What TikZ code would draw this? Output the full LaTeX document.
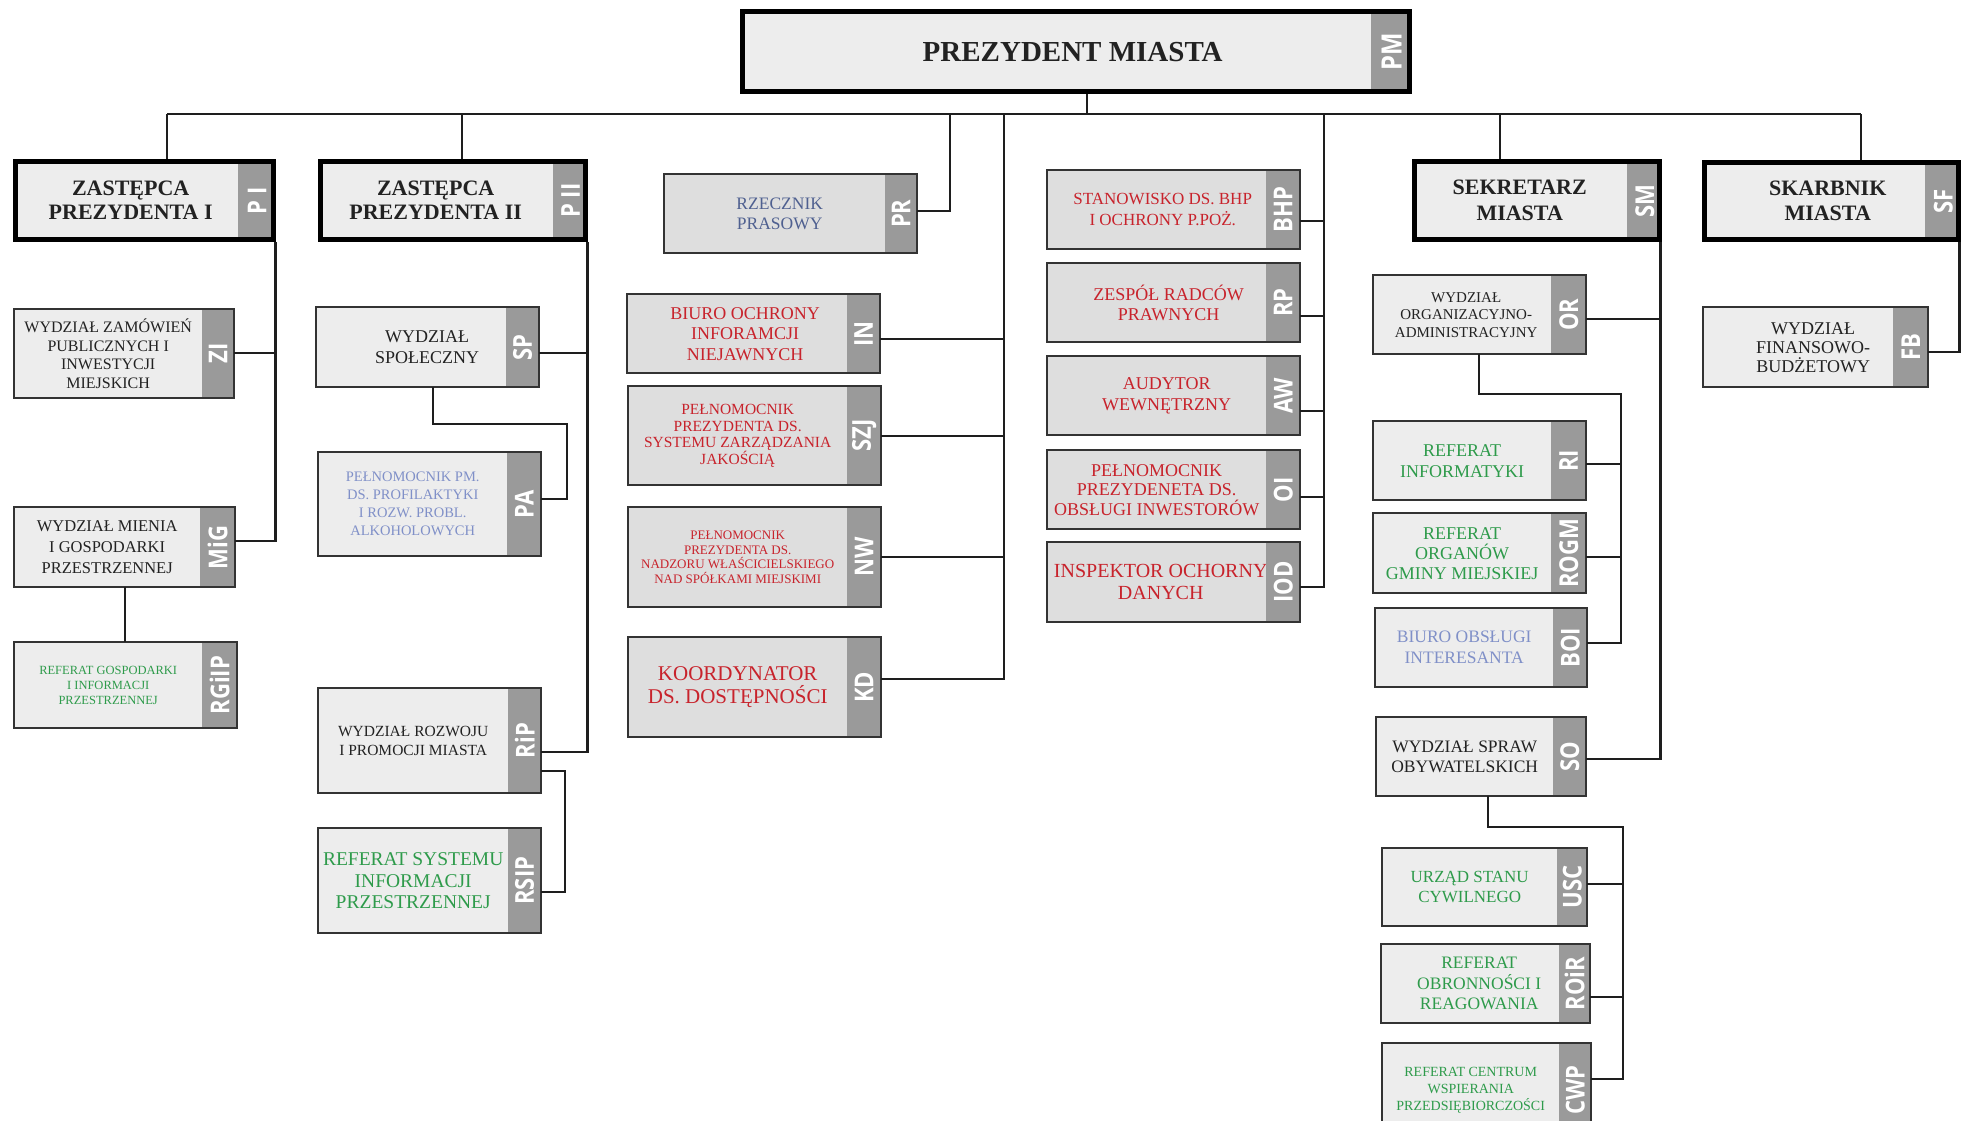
\documentclass[tikz,border=0pt]{standalone}
\usepackage{fontspec}
\setmainfont{Liberation Serif}
\newfontfamily\tagfont{Open Sans}
\usetikzlibrary{calc}
\definecolor{txtblack}{HTML}{222222}
\definecolor{redC}{HTML}{C8232C}
\definecolor{greenC}{HTML}{2E9B4B}
\definecolor{slateC}{HTML}{4F6090}
\definecolor{periC}{HTML}{8090C8}
\definecolor{lightfill}{HTML}{EDEDED}
\definecolor{midfill}{HTML}{DEDEDE}
\definecolor{taggrey}{HTML}{9A9A9A}
\definecolor{frameC}{HTML}{333333}
\definecolor{lineC}{HTML}{1E1E1E}
\tikzset{
  body/.style={inner sep=0pt, align=center, text=txtblack, fill=lightfill},
  dark/.style={fill=midfill},
  tagbox/.style={fill=taggrey, inner sep=0pt, text=white, font=\tagfont\bfseries\fontsize{26}{26}\selectfont},
  frame/.style={draw=frameC, line width=2pt},
  mainframe/.style={draw=black, line width=5pt},
  conn/.style={draw=lineC, line width=2.2pt},
  bigbold/.style={font=\bfseries\fontsize{22}{24}\selectfont}
}
% #1 name, #2 left, #3 top, #4 right, #5 bottom, #6 tag left, #7 body options, #8 tag text, #9 text
\newcommand{\orgbox}[9]{%
  \path[body,#7,reset cm] (#2,#3) rectangle (#6,#5);
  \node[body,#7,fill=none,minimum width={(#6-#2)*1pt},minimum height={(#5-#3)*1pt},anchor=north west] (#1) at (#2,#3) {#9};
  \node[tagbox,minimum width={(#4-#6)*1pt},minimum height={(#5-#3)*1pt},anchor=north west] (#1t) at (#6,#3) {\rotatebox{90}{\scalebox{0.85}[1]{#8}}};
  \draw[frame] (#2,#3) rectangle (#4,#5);
}
\newcommand{\mainbox}[9]{%
  \path[body,#7,reset cm] (#2,#3) rectangle (#6,#5);
  \node[body,#7,fill=none,minimum width={(#6-#2)*1pt},minimum height={(#5-#3)*1pt},anchor=north west] (#1) at (#2,#3) {#9};
  \node[tagbox,minimum width={(#4-#6)*1pt},minimum height={(#5-#3)*1pt},anchor=north west] (#1t) at (#6,#3) {\rotatebox{90}{\scalebox{0.85}[1]{#8}}};
  \draw[mainframe] ($(#2,#3)+(2.5,2.5)$) rectangle ($(#4,#5)+(-2.5,-2.5)$);
}
\begin{document}
\begin{tikzpicture}[x=1pt,y=-1pt]
\useasboundingbox (0,0) rectangle (1968,1120);
\clip (0,0) rectangle (1968,1120);
\fill[white] (0,0) rectangle (1968,1120);

% ---- top
\mainbox{pm}{740}{9}{1412}{94}{1371}{xshift=17pt,font=\bfseries\fontsize{29}{30}\selectfont}{\fontsize{28}{28}\selectfont PM}{PREZYDENT MIASTA}

% ---- column 1
\mainbox{pa1}{13}{159}{276}{242}{238}{xshift=5pt,bigbold}{P I}{ZASTĘPCA\\PREZYDENTA I}
\orgbox{zi}{14}{309}{234}{398}{202}{font=\fontsize{16}{18.5}\selectfont}{ZI}{WYDZIAŁ ZAMÓWIEŃ\\PUBLICZNYCH I\\INWESTYCJI\\MIEJSKICH}
\orgbox{mig}{14}{507}{235}{587}{200}{font=\fontsize{16.5}{21}\selectfont}{MiG}{WYDZIAŁ MIENIA\\I GOSPODARKI\\PRZESTRZENNEJ}
\orgbox{rg}{14}{642}{237}{728}{202}{text=greenC,font=\fontsize{12.5}{15}\selectfont}{RGiIP}{REFERAT GOSPODARKI\\I INFORMACJI\\PRZESTRZENNEJ}

% ---- column 2
\mainbox{pa2}{318}{159}{588}{242}{553}{bigbold}{P II}{ZASTĘPCA\\PREZYDENTA II}
\orgbox{sp}{316}{307}{539}{387}{506}{xshift=16pt,font=\fontsize{18}{21.5}\selectfont}{SP}{WYDZIAŁ\\SPOŁECZNY}
\orgbox{pab}{318}{452}{541}{556}{507}{text=periC,font=\fontsize{14.5}{18}\selectfont}{PA}{PEŁNOMOCNIK PM.\\DS. PROFILAKTYKI\\I ROZW. PROBL.\\ALKOHOLOWYCH}
\orgbox{rip}{318}{688}{541}{793}{508}{font=\fontsize{15.5}{19}\selectfont}{RiP}{WYDZIAŁ ROZWOJU\\I PROMOCJI MIASTA}
\orgbox{rsip}{318}{828}{541}{933}{508}{text=greenC,font=\fontsize{19.5}{21.5}\selectfont}{RSIP}{REFERAT SYSTEMU\\INFORMACJI\\PRZESTRZENNEJ}

% ---- column 3
\orgbox{prb}{664}{174}{917}{253}{885}{xshift=5pt,dark,text=slateC,font=\fontsize{17.5}{20}\selectfont}{PR}{RZECZNIK\\PRASOWY}
\orgbox{inb}{627}{294}{880}{373}{847}{xshift=8pt,dark,text=redC,font=\fontsize{18}{20.5}\selectfont}{IN}{BIURO OCHRONY\\INFORAMCJI\\NIEJAWNYCH}
\orgbox{szj}{628}{386}{881}{485}{847}{dark,text=redC,font=\fontsize{15.5}{16.5}\selectfont}{SZJ}{PEŁNOMOCNIK\\PREZYDENTA DS.\\SYSTEMU ZARZĄDZANIA\\JAKOŚCIĄ}
\orgbox{nw}{628}{507}{881}{607}{847}{dark,text=redC,font=\fontsize{13}{14.5}\selectfont}{NW}{PEŁNOMOCNIK\\PREZYDENTA DS.\\NADZORU WŁAŚCICIELSKIEGO\\NAD SPÓŁKAMI MIEJSKIMI}
\orgbox{kd}{628}{637}{881}{737}{847}{dark,text=redC,font=\fontsize{21}{23}\selectfont}{KD}{KOORDYNATOR\\DS. DOSTĘPNOŚCI}

% ---- column 4
\orgbox{bhp}{1047}{170}{1300}{249}{1266}{xshift=6pt,dark,text=redC,font=\fontsize{17}{20.5}\selectfont}{BHP}{STANOWISKO DS. BHP\\I OCHRONY P.POŻ.}
\orgbox{rp}{1047}{263}{1300}{342}{1266}{xshift=12pt,dark,text=redC,font=\fontsize{18}{20.5}\selectfont}{RP}{ZESPÓŁ RADCÓW\\PRAWNYCH}
\orgbox{aw}{1047}{356}{1300}{435}{1266}{xshift=10pt,dark,text=redC,font=\fontsize{18}{20.5}\selectfont}{AW}{AUDYTOR\\WEWNĘTRZNY}
\orgbox{oi}{1047}{450}{1300}{529}{1266}{dark,text=redC,font=\fontsize{18}{19.5}\selectfont}{OI}{PEŁNOMOCNIK\\PREZYDENETA DS.\\OBSŁUGI INWESTORÓW}
\orgbox{iod}{1047}{542}{1300}{622}{1266}{xshift=4pt,dark,text=redC,font=\fontsize{20}{22}\selectfont}{IOD}{INSPEKTOR OCHORNY\\DANYCH}

% ---- column 5
\mainbox{sm}{1412}{159}{1662}{242}{1627}{font=\bfseries\fontsize{22}{26}\selectfont}{SM}{SEKRETARZ\\MIASTA}
\orgbox{orb}{1373}{275}{1586}{354}{1551}{xshift=4pt,font=\fontsize{15}{17.5}\selectfont}{OR}{WYDZIAŁ\\ORGANIZACYJNO-\\ADMINISTRACYJNY}
\orgbox{ri}{1373}{421}{1586}{500}{1551}{text=greenC,font=\fontsize{18}{21}\selectfont}{RI}{REFERAT\\INFORMATYKI}
\orgbox{rogm}{1373}{513}{1586}{593}{1551}{text=greenC,font=\fontsize{18}{20}\selectfont}{ROGM}{REFERAT\\ORGANÓW\\GMINY MIEJSKIEJ}
\orgbox{boi}{1375}{608}{1587}{687}{1553}{text=periC,font=\fontsize{17.5}{21}\selectfont}{BOI}{BIURO OBSŁUGI\\INTERESANTA}
\orgbox{so}{1376}{717}{1586}{796}{1553}{font=\fontsize{17.5}{20.5}\selectfont}{SO}{WYDZIAŁ SPRAW\\OBYWATELSKICH}
\orgbox{usc}{1382}{848}{1587}{926}{1557}{text=greenC,font=\fontsize{17}{20}\selectfont}{USC}{URZĄD STANU\\CYWILNEGO}
\orgbox{roir}{1381}{944}{1590}{1023}{1559}{xshift=9pt,text=greenC,font=\fontsize{17.5}{20.5}\selectfont}{ROiR}{REFERAT\\OBRONNOŚCI I\\REAGOWANIA}
\orgbox{cwp}{1382}{1043}{1591}{1137}{1559}{text=greenC,font=\fontsize{14}{17}\selectfont}{CWP}{REFERAT CENTRUM\\WSPIERANIA\\PRZEDSIĘBIORCZOŚCI}

% ---- column 6
\mainbox{sf}{1702}{160}{1961}{242}{1925}{xshift=14pt,font=\bfseries\fontsize{22}{25}\selectfont}{SF}{SKARBNIK\\MIASTA}
\orgbox{fb}{1703}{307}{1928}{387}{1893}{xshift=15pt,font=\fontsize{18}{19}\selectfont}{FB}{WYDZIAŁ\\FINANSOWO-\\BUDŻETOWY}

% ---- connectors
\coordinate (busL) at (167,114);
\coordinate (busR) at (1861,114);
\coordinate (busP2) at (462,114);
\coordinate (busPR) at (950,114);
\coordinate (bus3) at (1004,114);
\coordinate (busPM) at (1087,114);
\coordinate (bus4) at (1324,114);
\coordinate (busSM) at (1500,114);

\draw[conn] (busL) -- (busR);
\draw[conn] (pmt.south -| busPM) -- (busPM);
\draw[conn] (busL) -- (busL |- pa1t.north);
\draw[conn] (busP2) -- (busP2 |- pa2t.north);
\draw[conn] (busSM) -- (busSM |- smt.north);
\draw[conn] (busR) -- (busR |- sft.north);

% column 1
\draw[conn] ($(pa1t.south east)+(-1,0)$) coordinate (v1) |- ($(migt.north east)+(0,34)$);
\draw[conn] ($(zit.north east)+(0,44)$) -| (v1);
\draw[conn] ($(mig.south west)!0.5!(migt.south east)$) coordinate (mj) -- (mj |- rgt.north);

% column 2
\draw[conn] ($(pa2t.south east)+(-1,0)$) coordinate (v2) |- ($(ript.north east)+(0,64)$);
\draw[conn] ($(spt.north east)+(0,46)$) -| (v2);
\coordinate (spj) at (567,424);
\draw[conn] ($(spt.south west)+(-73,0)$) |- (spj) |- ($(pabt.north east)+(0,47)$);
\coordinate (ripj) at (565,892);
\draw[conn] ($(ript.north east)+(0,83)$) -| (ripj) -- ($(rsipt.north east)+(0,64)$);

% column 3
\draw[conn] (busPR) |- ($(prbt.north east)+(0,37)$);
\draw[conn] (bus3) |- ($(kdt.north east)+(0,42)$);
\draw[conn] ($(inbt.north east)+(0,45)$) -| (bus3);
\draw[conn] ($(szjt.north east)+(0,50)$) -| (bus3);
\draw[conn] ($(nwt.north east)+(0,50)$) -| (bus3);

% column 4
\draw[conn] (bus4) |- ($(iodt.north east)+(0,45)$);
\draw[conn] ($(bhpt.north east)+(0,51)$) -| (bus4);
\draw[conn] ($(rpt.north east)+(0,53)$) -| (bus4);
\draw[conn] ($(awt.north east)+(0,55)$) -| (bus4);
\draw[conn] ($(oit.north east)+(0,47)$) -| (bus4);

% column 5
\draw[conn] ($(smt.south east)+(-2,0)$) coordinate (v5) |- ($(sot.north east)+(0,42)$);
\draw[conn] ($(orbt.north east)+(0,44)$) -| (v5);
\coordinate (orj) at (1621,394);
\draw[conn] ($(orbt.south west)+(-72,0)$) |- (orj) |- ($(boit.north east)+(0,35)$);
\draw[conn] ($(rit.north east)+(0,43)$) -| (orj);
\draw[conn] ($(rogmt.north east)+(0,44)$) -| (orj);
\coordinate (soj) at (1623,827);
\draw[conn] ($(sot.south west)+(-65,0)$) |- (soj) |- ($(cwpt.north east)+(0,36)$);
\draw[conn] ($(usct.north east)+(0,36)$) -| (soj);
\draw[conn] ($(roirt.north east)+(0,53)$) -| (soj);

% column 6
\draw[conn] ($(sft.south east)+(-2,0)$) |- ($(fbt.north east)+(0,45)$);
\end{tikzpicture}
\end{document}
